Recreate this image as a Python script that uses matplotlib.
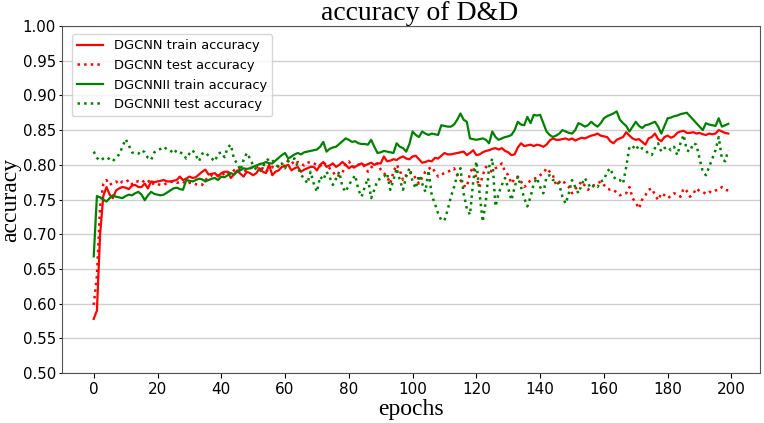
import matplotlib
matplotlib.use("Agg")
import matplotlib.pyplot as plt
import numpy as np

epochs = list(range(200))

dgcnn_train = [
    0.578, 0.590, 0.700, 0.755, 0.768, 0.757, 0.752, 0.763, 0.766, 0.768,
    0.767, 0.765, 0.770, 0.771, 0.768, 0.768, 0.773, 0.766, 0.776, 0.775,
    0.776, 0.777, 0.778, 0.776, 0.776, 0.777, 0.778, 0.783, 0.778, 0.780,
    0.783, 0.781, 0.782, 0.786, 0.790, 0.793, 0.786, 0.787, 0.788, 0.783,
    0.788, 0.790, 0.790, 0.781, 0.786, 0.792, 0.787, 0.783, 0.790, 0.788,
    0.785, 0.788, 0.795, 0.790, 0.788, 0.800, 0.785, 0.790, 0.792, 0.797,
    0.798, 0.800, 0.792, 0.795, 0.797, 0.790, 0.793, 0.795, 0.797, 0.797,
    0.792, 0.800, 0.804, 0.797, 0.799, 0.802, 0.797, 0.800, 0.804, 0.800,
    0.795, 0.798, 0.797, 0.800, 0.802, 0.799, 0.801, 0.803, 0.800, 0.802,
    0.802, 0.812, 0.805, 0.806, 0.808, 0.807, 0.810, 0.812, 0.809, 0.808,
    0.812, 0.813, 0.808, 0.803, 0.804, 0.806, 0.805, 0.810, 0.809, 0.813,
    0.817, 0.815, 0.815, 0.816, 0.817, 0.818, 0.819, 0.814, 0.817, 0.821,
    0.814, 0.815, 0.818, 0.820, 0.821, 0.823, 0.824, 0.822, 0.824, 0.820,
    0.818, 0.814, 0.815, 0.825, 0.831, 0.827, 0.828, 0.829, 0.827, 0.829,
    0.828, 0.826, 0.829, 0.835, 0.838, 0.836, 0.836, 0.837, 0.838, 0.836,
    0.838, 0.835, 0.837, 0.839, 0.838, 0.840, 0.842, 0.843, 0.845, 0.842,
    0.841, 0.840, 0.834, 0.831, 0.836, 0.838, 0.840, 0.847, 0.842, 0.838,
    0.836, 0.837, 0.833, 0.829, 0.838, 0.840, 0.845, 0.837, 0.834, 0.840,
    0.842, 0.839, 0.841, 0.846, 0.848, 0.849, 0.846, 0.846, 0.847, 0.845,
    0.846, 0.844, 0.843, 0.845, 0.844, 0.845, 0.850, 0.848, 0.846, 0.845,
]

dgcnn_test = [
    0.598, 0.640, 0.740, 0.772, 0.778, 0.771, 0.774, 0.776, 0.772, 0.776,
    0.775, 0.778, 0.772, 0.776, 0.776, 0.774, 0.778, 0.778, 0.771, 0.774,
    0.772, 0.771, 0.771, 0.774, 0.775, 0.776, 0.774, 0.775, 0.776, 0.772,
    0.774, 0.774, 0.772, 0.771, 0.771, 0.778, 0.782, 0.785, 0.783, 0.785,
    0.784, 0.788, 0.790, 0.787, 0.792, 0.795, 0.793, 0.790, 0.793, 0.795,
    0.796, 0.798, 0.793, 0.795, 0.790, 0.794, 0.797, 0.795, 0.798, 0.800,
    0.798, 0.807, 0.805, 0.800, 0.804, 0.802, 0.799, 0.803, 0.804, 0.802,
    0.800, 0.798, 0.804, 0.799, 0.795, 0.790, 0.783, 0.785, 0.788, 0.802,
    0.805, 0.798, 0.795, 0.800, 0.802, 0.797, 0.790, 0.796, 0.800, 0.802,
    0.793, 0.788, 0.783, 0.773, 0.790, 0.800, 0.792, 0.778, 0.785, 0.790,
    0.788, 0.780, 0.773, 0.782, 0.790, 0.794, 0.797, 0.790, 0.783, 0.786,
    0.788, 0.790, 0.792, 0.795, 0.785, 0.778, 0.770, 0.768, 0.788, 0.797,
    0.781, 0.768, 0.785, 0.797, 0.792, 0.790, 0.795, 0.798, 0.802, 0.790,
    0.785, 0.773, 0.780, 0.783, 0.776, 0.768, 0.772, 0.778, 0.780, 0.781,
    0.785, 0.788, 0.795, 0.790, 0.785, 0.771, 0.775, 0.778, 0.772, 0.768,
    0.759, 0.765, 0.770, 0.776, 0.770, 0.764, 0.768, 0.771, 0.773, 0.776,
    0.771, 0.766, 0.764, 0.764, 0.760, 0.756, 0.758, 0.759, 0.768, 0.752,
    0.745, 0.737, 0.750, 0.756, 0.764, 0.766, 0.757, 0.749, 0.759, 0.756,
    0.752, 0.755, 0.759, 0.757, 0.754, 0.766, 0.762, 0.754, 0.758, 0.766,
    0.762, 0.761, 0.758, 0.761, 0.760, 0.763, 0.764, 0.768, 0.764, 0.763,
]

dgcnnii_train = [
    0.668, 0.755, 0.753, 0.750, 0.747, 0.752, 0.756, 0.754, 0.753, 0.752,
    0.755, 0.757, 0.756, 0.759, 0.761, 0.757, 0.749, 0.756, 0.761, 0.758,
    0.757, 0.756, 0.757, 0.760, 0.763, 0.766, 0.767, 0.765, 0.764, 0.778,
    0.777, 0.776, 0.778, 0.780, 0.779, 0.776, 0.778, 0.780, 0.781, 0.778,
    0.783, 0.782, 0.785, 0.788, 0.786, 0.790, 0.792, 0.795, 0.794, 0.795,
    0.797, 0.799, 0.801, 0.802, 0.804, 0.802, 0.802, 0.806, 0.810, 0.814,
    0.817, 0.809, 0.812, 0.815, 0.817, 0.815, 0.818, 0.819, 0.820, 0.821,
    0.822, 0.826, 0.833, 0.819, 0.823, 0.825, 0.826, 0.830, 0.834, 0.838,
    0.836, 0.833, 0.834, 0.831, 0.830, 0.830, 0.829, 0.836, 0.826, 0.817,
    0.818, 0.820, 0.819, 0.818, 0.817, 0.831, 0.826, 0.824, 0.819, 0.830,
    0.848, 0.843, 0.840, 0.848, 0.845, 0.843, 0.845, 0.844, 0.843, 0.857,
    0.856, 0.855, 0.855, 0.858, 0.865, 0.874, 0.865, 0.862, 0.838, 0.837,
    0.836, 0.837, 0.838, 0.836, 0.831, 0.848, 0.840, 0.836, 0.838, 0.840,
    0.841, 0.843, 0.850, 0.862, 0.858, 0.857, 0.869, 0.860, 0.872, 0.871,
    0.872, 0.860, 0.848, 0.843, 0.840, 0.842, 0.845, 0.850, 0.848, 0.846,
    0.845, 0.850, 0.860, 0.858, 0.855, 0.857, 0.862, 0.858, 0.855, 0.860,
    0.867, 0.870, 0.872, 0.874, 0.877, 0.865, 0.860, 0.856, 0.848, 0.855,
    0.862, 0.856, 0.853, 0.857, 0.858, 0.860, 0.862, 0.855, 0.845, 0.856,
    0.867, 0.868, 0.870, 0.871, 0.873, 0.874, 0.875, 0.870, 0.865, 0.860,
    0.855, 0.850, 0.860, 0.858, 0.857, 0.856, 0.867, 0.855, 0.857, 0.859,
]

dgcnnii_test = [
    0.819, 0.810, 0.806, 0.809, 0.811, 0.808, 0.805, 0.811, 0.815, 0.826,
    0.837, 0.828, 0.818, 0.816, 0.816, 0.821, 0.818, 0.810, 0.807, 0.818,
    0.821, 0.823, 0.826, 0.822, 0.821, 0.816, 0.821, 0.818, 0.816, 0.809,
    0.816, 0.821, 0.814, 0.805, 0.816, 0.818, 0.813, 0.809, 0.805, 0.816,
    0.818, 0.811, 0.825, 0.829, 0.808, 0.802, 0.792, 0.807, 0.817, 0.809,
    0.799, 0.793, 0.790, 0.797, 0.805, 0.809, 0.807, 0.800, 0.797, 0.802,
    0.795, 0.805, 0.808, 0.809, 0.797, 0.785, 0.781, 0.773, 0.790, 0.773,
    0.761, 0.783, 0.778, 0.790, 0.782, 0.771, 0.780, 0.790, 0.768, 0.761,
    0.771, 0.778, 0.785, 0.764, 0.754, 0.768, 0.781, 0.752, 0.764, 0.778,
    0.780, 0.783, 0.788, 0.764, 0.778, 0.795, 0.778, 0.764, 0.783, 0.795,
    0.776, 0.766, 0.785, 0.773, 0.761, 0.792, 0.756, 0.744, 0.730, 0.720,
    0.720, 0.735, 0.754, 0.768, 0.785, 0.795, 0.759, 0.737, 0.728, 0.776,
    0.805, 0.759, 0.718, 0.749, 0.797, 0.809, 0.740, 0.759, 0.771, 0.781,
    0.766, 0.749, 0.768, 0.783, 0.768, 0.752, 0.740, 0.754, 0.773, 0.781,
    0.768, 0.759, 0.783, 0.785, 0.778, 0.778, 0.771, 0.754, 0.744, 0.759,
    0.778, 0.768, 0.759, 0.771, 0.781, 0.773, 0.766, 0.771, 0.768, 0.776,
    0.778, 0.790, 0.795, 0.783, 0.778, 0.778, 0.773, 0.797, 0.826, 0.824,
    0.829, 0.821, 0.824, 0.821, 0.816, 0.814, 0.824, 0.831, 0.819, 0.824,
    0.826, 0.821, 0.826, 0.814, 0.831, 0.843, 0.821, 0.819, 0.831, 0.829,
    0.809, 0.790, 0.785, 0.797, 0.809, 0.821, 0.840, 0.809, 0.805, 0.821,
]

series_labels = ["DGCNN train accuracy", "DGCNN test accuracy",
                 "DGCNNII train accuracy", "DGCNNII test accuracy"]
title = "accuracy of D&D"
x_label = "epochs"
y_label = "accuracy"
x_ticks = list(range(0, 201, 20))
y_ticks = [0.50, 0.55, 0.60, 0.65, 0.70, 0.75, 0.80, 0.85, 0.90, 0.95, 1.00]

fig = plt.figure(figsize=(7.64, 4.23), dpi=100)
ax = fig.add_axes([62 / 764, 1 - 373 / 423, (760 - 62) / 764, (373 - 26) / 423])

ax.plot(epochs, dgcnn_train, color="red", lw=1.6, ls="-", label=series_labels[0])
ax.plot(epochs, dgcnn_test, color="red", lw=1.8, ls=":", label=series_labels[1])
ax.plot(epochs, dgcnnii_train, color="green", lw=1.6, ls="-", label=series_labels[2])
ax.plot(epochs, dgcnnii_test, color="green", lw=1.8, ls=":", label=series_labels[3])

ax.set_ylim(0.5, 1.0)
ax.set_xlim(-9.95, 208.95)
ax.set_yticks(y_ticks)
ax.set_xticks(x_ticks)
ax.yaxis.set_major_formatter(matplotlib.ticker.FormatStrFormatter("%.2f"))
ax.grid(axis="y", color="#d0d0d0", lw=1)
ax.set_axisbelow(True)
for s in ax.spines.values():
    s.set_color("#555555")

ax.tick_params(axis="x", labelsize=11, length=3.5, pad=3)
ax.tick_params(axis="y", labelsize=10.8, length=2.5, pad=2)

serif = ["Liberation Serif", "DejaVu Serif"]
ax.set_title(title, fontsize=20, family=serif, pad=4, x=(420 - 62) / 698)
ax.set_xlabel(x_label, fontsize=17, family=serif)
ax.set_ylabel(y_label, fontsize=17, family=serif)
ax.xaxis.set_label_coords(0.5, (373 - 399) / 347)
ax.yaxis.set_label_coords((21.5 - 62) / 698, 0.5)

ax.legend(loc="upper left", fontsize=9.4, bbox_to_anchor=(0.005, 0.995))

fig.savefig("out.png", dpi=100)
